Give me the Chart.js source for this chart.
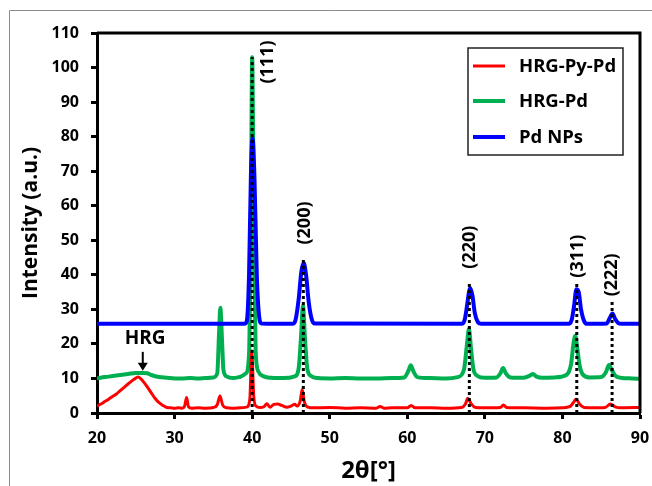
<!DOCTYPE html>
<html>
<head>
    <title>XRD patterns</title>
    <script src="https://cdn.jsdelivr.net/npm/chart.js"></script>
    <style>
        body {
            margin: 0;
            padding: 0;
            background-color: #ffffff;
        }
        #xrdChart {
            display: block;
        }
    </style>
</head>
<body>
    <canvas id="xrdChart" width="652" height="486"></canvas>

    <script>
        // HRG-Py-Pd (red)
        var pyPdX = [20, 20.5, 21, 21.5, 22, 22.5, 23, 23.5, 24, 24.5, 25, 25.3, 25.7, 26, 26.5, 27, 27.5, 28, 28.5, 29, 29.5, 30, 30.5, 31, 31.3, 31.55, 31.8, 32.2, 33, 34, 35, 35.5, 35.85, 36.2, 36.7, 37.5, 38.5, 39.3, 39.7, 39.95, 40.2, 40.5, 41, 41.5, 41.9, 42.3, 42.8, 43.3, 43.8, 44.5, 45, 45.5, 45.8, 46.2, 46.45, 46.7, 47.1, 48, 50, 52, 54, 56, 56.5, 57, 58, 60, 60.5, 61, 63, 65, 67, 67.5, 67.8, 68.2, 68.8, 70, 72, 72.4, 72.8, 75, 78, 80, 81, 81.5, 81.75, 82.2, 82.8, 84, 85.5, 86.2, 86.8, 87.5, 90];
        var pyPdY = [2.0, 2.6, 3.3, 4.0, 4.8, 5.5, 6.5, 7.4, 8.4, 9.3, 10.1, 10.4, 9.8, 9.0, 7.5, 5.8, 4.2, 3.0, 2.2, 1.6, 1.5, 1.4, 1.5, 1.4, 2.0, 4.5, 1.8, 1.4, 1.5, 1.4, 1.6, 2.4, 4.9, 2.3, 1.5, 1.4, 1.5, 1.7, 4.0, 18.0, 5.0, 2.0, 1.6, 1.8, 2.7, 1.7, 2.5, 2.6, 2.2, 1.7, 2.0, 2.5, 2.0, 3.5, 6.8, 3.5, 1.8, 1.5, 1.6, 1.4, 1.5, 1.4, 1.9, 1.4, 1.5, 1.5, 2.2, 1.5, 1.5, 1.4, 1.6, 2.6, 4.3, 2.8, 1.6, 1.5, 1.6, 2.3, 1.6, 1.5, 1.4, 1.5, 1.9, 3.3, 4.0, 2.6, 1.6, 1.5, 1.6, 2.6, 1.8, 1.5, 1.6];

        // HRG-Pd (green)
        var hrgPdX = [20, 21, 22, 23, 24, 25, 26, 26.5, 27, 28, 29, 30, 31, 32, 33, 34, 35, 35.5, 35.75, 35.9, 36.1, 36.3, 36.7, 37.5, 38.5, 39.2, 39.6, 39.85, 40.0, 40.2, 40.45, 40.8, 41.5, 42.5, 44, 45.5, 46.0, 46.3, 46.55, 46.8, 47.1, 47.6, 48.5, 50, 52, 54, 56, 58, 59.6, 60.1, 60.45, 60.8, 61.3, 63, 65, 66.5, 67.3, 67.7, 67.95, 68.2, 68.5, 69, 70, 71.5, 72, 72.35, 72.7, 73.3, 75, 75.8, 76.2, 76.6, 77.5, 79, 80.5, 81.1, 81.45, 81.65, 81.9, 82.2, 82.6, 83.5, 85, 85.6, 86.0, 86.35, 86.8, 87.5, 89, 90];
        var hrgPdY = [10.0, 10.4, 10.7, 11.0, 11.3, 11.6, 11.6, 11.5, 11.0, 10.4, 10.2, 10.0, 10.0, 10.1, 10.0, 10.1, 10.3, 11.5, 24, 30.5, 22, 12.5, 10.6, 10.1, 10.5, 11.5, 17, 60, 103, 60, 18, 12, 10.6, 10.2, 10.1, 10.6, 13, 22, 31, 22, 13, 10.7, 10.1, 10.0, 10.1, 10.0, 10.0, 10.1, 10.3, 12.0, 13.8, 12.0, 10.4, 10.1, 10.0, 10.4, 12.5, 20, 24.3, 19, 13, 10.8, 10.2, 10.3, 11.5, 13.0, 11.5, 10.3, 10.2, 10.8, 11.3, 10.6, 10.2, 10.3, 11.0, 14, 20.5, 22.3, 19, 14, 11.2, 10.3, 10.4, 11.8, 13.9, 12.5, 10.8, 10.2, 10.0, 9.9];

        // Pd NPs (blue)
        var pdNpX = [20, 39.0, 39.3, 39.6, 39.85, 40.05, 40.3, 40.6, 40.9, 41.2, 45.2, 45.6, 46.0, 46.35, 46.65, 46.95, 47.3, 47.7, 48.1, 67.0, 67.4, 67.7, 67.95, 68.1, 68.4, 68.7, 69.1, 69.5, 80.8, 81.2, 81.5, 81.8, 82.1, 82.4, 82.8, 83.2, 85.7, 86.1, 86.45, 86.8, 87.2, 87.6, 90];
        var pdNpY = [25.8, 25.8, 26.5, 40, 70, 79.5, 68, 40, 28, 25.9, 25.8, 27, 33, 41, 43.4, 40, 32, 27, 25.9, 25.8, 27, 31, 35, 36.2, 34, 29, 26.3, 25.8, 25.8, 27, 31, 35.8, 35, 30, 26.6, 25.8, 25.9, 27.5, 28.8, 27.2, 26, 25.8, 25.8];

        // reflections (dotted guide lines) and labels
        var hklNames = ['(111)', '(200)', '(220)', '(311)', '(222)'];
        var hklPos = [40.0, 46.6, 68.0, 81.85, 86.4];
        var hklTop = [103, 44.6, 37.7, 37.6, 32.2];
        var hklLabelX = [42.0, 46.8, 68.1, 82.0, 86.4];
        var hklLabelY = [101.6, 55.0, 48.0, 45.4, 40.0];

        var seriesNames = ['HRG-Py-Pd', 'HRG-Pd', 'Pd NPs'];
        var seriesColors = ['#ff0000', '#00b050', '#0000ff'];

        function toPoints(xs, ys) {
            return xs.map(function (x, i) { return { x: x, y: ys[i] }; });
        }

        Chart.defaults.font.family = "'Open Sans', sans-serif";
        Chart.defaults.color = '#000';

        var datasets = [];
        for (var i = 0; i < hklPos.length; i++) {
            datasets.push({
                label: 'guide' + i,
                data: [{ x: hklPos[i], y: 0 }, { x: hklPos[i], y: hklTop[i] }],
                borderColor: '#000',
                borderWidth: 3,
                borderDash: [3, 3],
                pointRadius: 0,
                fill: false
            });
        }
        datasets.push({
            label: seriesNames[0], data: toPoints(pyPdX, pyPdY),
            borderColor: seriesColors[0], borderWidth: 3,
            pointRadius: 0, cubicInterpolationMode: 'monotone'
        });
        datasets.push({
            label: seriesNames[2], data: toPoints(pdNpX, pdNpY),
            borderColor: seriesColors[2], borderWidth: 4,
            pointRadius: 0, cubicInterpolationMode: 'monotone'
        });
        datasets.push({
            label: seriesNames[1], data: toPoints(hrgPdX, hrgPdY),
            borderColor: seriesColors[1], borderWidth: 4,
            pointRadius: 0, cubicInterpolationMode: 'monotone'
        });

        var extrasPlugin = {
            id: 'extras',
            beforeDraw: function (chart) {
                var ctx = chart.ctx;
                ctx.save();
                ctx.fillStyle = '#fff';
                ctx.fillRect(0, 0, chart.width, chart.height);
                // photo frame
                ctx.strokeStyle = '#8c8c8c';
                ctx.lineWidth = 1;
                ctx.beginPath();
                ctx.moveTo(9.5, chart.height);
                ctx.lineTo(9.5, 10.5);
                ctx.lineTo(chart.width, 10.5);
                ctx.stroke();
                ctx.restore();
            },
            afterDraw: function (chart) {
                var ctx = chart.ctx;
                var xs = chart.scales.x, ys = chart.scales.y;
                var area = chart.chartArea;
                ctx.save();

                // top and right frame of the plot
                ctx.strokeStyle = '#000';
                ctx.lineWidth = 3;
                ctx.beginPath();
                ctx.moveTo(area.left, area.top);
                ctx.lineTo(area.right, area.top);
                ctx.lineTo(area.right, area.bottom);
                ctx.stroke();

                // hkl labels
                ctx.fillStyle = '#000';
                ctx.font = "bold 18px 'Open Sans', sans-serif";
                ctx.textAlign = 'center';
                ctx.textBaseline = 'middle';
                for (var i = 0; i < hklNames.length; i++) {
                    ctx.save();
                    ctx.translate(xs.getPixelForValue(hklLabelX[i]), ys.getPixelForValue(hklLabelY[i]));
                    ctx.rotate(-Math.PI / 2);
                    ctx.fillText(hklNames[i], 0, 0);
                    ctx.restore();
                }

                // HRG note with arrow
                ctx.font = "bold 19px 'Open Sans', sans-serif";
                ctx.fillText('HRG', xs.getPixelForValue(26.2), ys.getPixelForValue(21.4));
                var ax = xs.getPixelForValue(25.9);
                var ay0 = ys.getPixelForValue(17.7), ay1 = ys.getPixelForValue(12.2);
                ctx.lineWidth = 2;
                ctx.beginPath();
                ctx.moveTo(ax, ay0);
                ctx.lineTo(ax, ay1 - 6);
                ctx.stroke();
                ctx.beginPath();
                ctx.moveTo(ax - 5, ay1 - 8);
                ctx.lineTo(ax + 5, ay1 - 8);
                ctx.lineTo(ax, ay1);
                ctx.closePath();
                ctx.fill();

                // legend box
                ctx.fillStyle = '#fff';
                ctx.fillRect(468, 48, 155, 107);
                ctx.strokeStyle = '#222';
                ctx.lineWidth = 1.5;
                ctx.strokeRect(468, 48, 155, 107);
                ctx.font = "bold 18.5px 'Open Sans', sans-serif";
                ctx.textAlign = 'left';
                var rows = [66, 101, 137];
                var widths = [3, 4, 4];
                for (var k = 0; k < 3; k++) {
                    ctx.strokeStyle = seriesColors[k];
                    ctx.lineWidth = widths[k];
                    ctx.beginPath();
                    ctx.moveTo(473, rows[k]);
                    ctx.lineTo(505, rows[k]);
                    ctx.stroke();
                    ctx.fillStyle = '#000';
                    ctx.fillText(seriesNames[k], 519, rows[k] + 1);
                }
                ctx.restore();
            }
        };

        var xrdChart = new Chart(document.getElementById('xrdChart').getContext('2d'), {
            type: 'line',
            data: { datasets: datasets },
            options: {
                responsive: false,
                animation: false,
                devicePixelRatio: 1,
                layout: { padding: { left: 0, top: 33, right: 12, bottom: 0 } },
                plugins: {
                    legend: { display: false },
                    tooltip: { enabled: false }
                },
                scales: {
                    x: {
                        type: 'linear',
                        min: 20,
                        max: 90,
                        afterFit: function (s) {
                            s.height = 73;
                            s.paddingLeft = 0;
                            s.paddingRight = 0;
                        },
                        ticks: { stepSize: 10, font: { size: 16, weight: 'bold' }, color: '#000', padding: 10 },
                        grid: { drawOnChartArea: false, drawTicks: true, tickLength: 6, tickWidth: 3, tickColor: '#000' },
                        border: { color: '#000', width: 3 },
                        title: {
                            display: true,
                            text: '2θ[°]',
                            font: { size: 24, weight: 'bold' },
                            color: '#000',
                            padding: { top: 0, bottom: 0 }
                        }
                    },
                    y: {
                        min: 0,
                        max: 110,
                        afterFit: function (s) { s.width = 97; },
                        ticks: { stepSize: 10, font: { size: 16, weight: 'bold' }, color: '#000', padding: 12 },
                        grid: { drawOnChartArea: false, drawTicks: true, tickLength: 6, tickWidth: 3, tickColor: '#000' },
                        border: { color: '#000', width: 3 },
                        title: {
                            display: true,
                            text: 'Intensity (a.u.)',
                            font: { size: 21, weight: 'bold' },
                            color: '#000',
                            padding: { top: 18, bottom: 0 }
                        }
                    }
                }
            },
            plugins: [extrasPlugin]
        });
    </script>
</body>
</html>
